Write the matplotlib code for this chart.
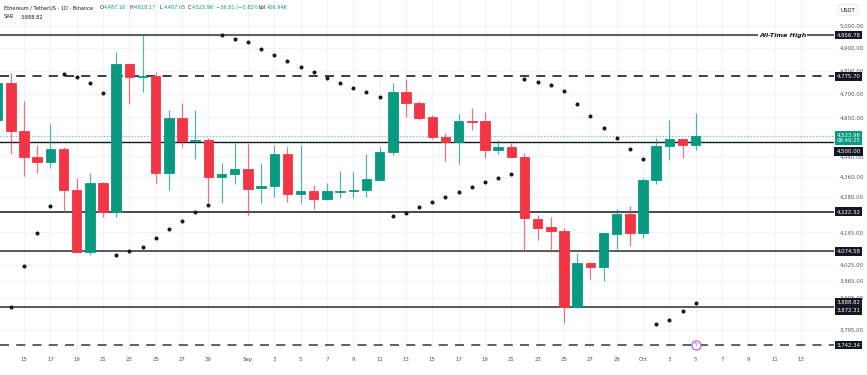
import matplotlib
matplotlib.use('Agg')
import matplotlib.pyplot as plt
import matplotlib.dates as mdates
import matplotlib.transforms as mtransforms
import pandas as pd
import numpy as np

# ---------------- data ----------------
dates = pd.date_range('2025-08-13', '2025-10-05', freq='D')
opens = [4589, 4744, 4544, 4438, 4418, 4470, 4308, 4073, 4334, 4222,
         4829, 4773, 4776, 4373, 4596, 4503, 4507, 4357, 4370, 4389,
         4313, 4323, 4449, 4293, 4303, 4271, 4301, 4304, 4308, 4346,
         4457, 4706, 4662, 4600, 4520, 4499, 4586, 4585, 4465, 4477,
         4439, 4196, 4164, 4149, 3872, 4031, 4015, 4139, 4214, 4141,
         4346, 4482, 4510, 4487.16]
highs = [4760, 4788, 4669, 4486, 4573, 4478, 4354, 4375, 4338, 4882,
         4830, 4956.78, 4795, 4631, 4662, 4631, 4514, 4412, 4493, 4490,
         4415, 4486, 4479, 4486, 4327, 4333, 4382, 4379, 4449, 4477,
         4744, 4763, 4668, 4610, 4534, 4614, 4638, 4624, 4507, 4493,
         4452, 4210, 4204, 4160, 4067, 4036, 4141, 4233, 4245, 4353,
         4514, 4589, 4512, 4618.17]
lows = [4575, 4450, 4363, 4373, 4394, 4223, 4067, 4060, 4204, 4204,
        4656, 4708, 4333, 4307, 4479, 4429, 4262, 4255, 4329, 4210,
        4255, 4281, 4262, 4255, 4233, 4268, 4275, 4275, 4281, 4346,
        4446, 4603, 4590, 4510, 4422, 4410, 4548, 4433, 4451, 4437,
        4079, 4116, 4073, 3817, 3871, 3973, 3967, 4082, 4094, 4122,
        4330, 4426, 4432, 4467.05]
closes = [4746, 4544, 4438, 4418, 4470, 4308, 4073, 4334, 4222, 4827,
          4773, 4776, 4373, 4596, 4503, 4508, 4357, 4370, 4389, 4312,
          4323, 4449, 4293, 4303, 4271, 4303, 4304, 4308, 4350, 4457,
          4706, 4662, 4599, 4520, 4499, 4585, 4582, 4465, 4479, 4439,
          4198, 4161, 4150, 3872, 4031, 4015, 4141, 4214, 4141, 4346,
          4482, 4510, 4487, 4523.96]
sar = [np.nan, 3873.5, 4020, 4143, 4245, 4785, 4773, 4744, 4704, 4059,
       4076, 4091, 4125, 4158, 4189, 4221, 4250, 4956.78, 4937, 4924,
       4894, 4868, 4841, 4816, 4792, 4769, 4747, 4725, 4706, 4685,
       4208, 4219, 4241, 4260, 4281, 4299, 4319, 4337, 4354, 4371,
       4764, 4749, 4737, 4711, 4655, 4606, 4557, 4514, 4470, 4431,
       3814, 3828, 3858, 3888.82]

ath_level = 4956.78
res_level = 4775.70
last_price = 4523.96
level_4500 = 4500.00
level_4222 = 4222.32
level_4074 = 4074.58
level_3872 = 3872.31
sup_level = 3742.34
sar_last = 3888.82

y_ticks = [5000, 4900, 4800, 4700, 4600, 4440, 4360, 4280, 4145,
           4025, 3965, 3905, 3795]
tick_dates = (list(pd.date_range('2025-08-15', '2025-08-29', freq='2D')) +
              list(pd.date_range('2025-09-01', '2025-09-29', freq='2D')) +
              list(pd.date_range('2025-10-01', '2025-10-13', freq='2D')))
header_items = [
    ("Ethereum / TetherUS · 1D · Binance", 4, '#131722'),
    ("O", 100, '#131722'), ("4,487.16", 103.5, '#089981'),
    ("H", 130, '#131722'), ("4,618.17", 133.5, '#089981'),
    ("L", 160, '#131722'), ("4,467.05", 163.5, '#089981'),
    ("C", 188, '#131722'), ("4,523.96", 191.5, '#089981'),
    ("\u221236.81 (\u22120.82%)", 216, '#089981'),
    ("Vol", 259, '#131722'), ("456.94K", 267, '#089981'),
]

# ---------------- style ----------------
UP = '#089981'
DOWN = '#F23645'
W, H = 867, 375
fig = plt.figure(figsize=(W / 100, H / 100), dpi=100)
ax = fig.add_axes([0, 25 / H, 834 / W, 350 / H])
ax.set_yscale('log')

x = mdates.date2num(dates)
x0 = mdates.date2num(pd.Timestamp('2025-08-15'))
ax.set_xlim(x0 - 1.822, x0 + 61.5)
ax.set_ylim(3725.2, 5117.0)

o = np.array(opens); c = np.array(closes)
hi = np.array(highs); lo = np.array(lows)
cols = np.where(c >= o, UP, DOWN)

ax.vlines(x, lo, hi, colors=cols, linewidth=0.9, zorder=3, alpha=0.7)
bottoms = np.minimum(o, c)
heights = np.maximum(np.abs(c - o), 0.5)
ax.bar(x, heights, bottom=bottoms, width=0.72, color=cols, edgecolor=cols,
       linewidth=0.6, zorder=4)

ax.plot(x, sar, linestyle='none', marker='o', markersize=1.9,
        color='#131722', zorder=5)

# horizontal levels
ax.axhline(ath_level, xmin=0, xmax=757 / 834, color='#5d606b', lw=1.5, zorder=2)
ax.axhline(ath_level, xmin=808 / 834, xmax=1, color='#5d606b', lw=1.5, zorder=2)
ax.axhline(res_level, color='#2a2e39', lw=1.3, ls=(0, (5, 4)), zorder=2)
ax.axhline(last_price, color=UP, lw=0.9, ls=(0, (1, 1.5)), alpha=0.6, zorder=2)
ax.axhline(level_4500, color='#131722', lw=1.0, zorder=2)
ax.axhline(level_4222, color='#131722', lw=1.1, zorder=2)
ax.axhline(level_4074, color='#3b3e47', lw=1.2, zorder=2)
ax.axhline(level_3872, color='#3b3e47', lw=1.2, zorder=2)
ax.axhline(sup_level, color='#50535e', lw=1.3, ls=(0, (5, 4)), zorder=2)

ax.text(783 / 834, ath_level, "All-Time High", transform=ax.get_yaxis_transform(),
        ha='center', va='center', fontsize=4.6, fontstyle='italic',
        fontweight='bold', color='#131722', zorder=6)

# lightning event marker
ev_x = mdates.date2num(pd.Timestamp('2025-10-05'))
ax.plot([ev_x], [sup_level], marker='o',
        markersize=6.5, markerfacecolor='white', markeredgecolor='#b84fd1',
        markeredgewidth=0.8, zorder=6, clip_on=False)
ax.text(ev_x, sup_level, "\u03df",
        ha='center', va='center', fontsize=4.5, color='#b84fd1', zorder=7)

# axes, ticks, grid
ax.set_yticks(y_ticks)
ax.set_yticks([], minor=True)
ax.set_yticklabels([f"{v:,.2f}" for v in y_ticks])
ax.yaxis.set_minor_formatter(matplotlib.ticker.NullFormatter())
ax.yaxis.tick_right()
ax.tick_params(axis='y', length=0, pad=4, labelsize=3.9, labelcolor='#50535e')
ax.set_xticks(mdates.date2num(tick_dates))
ax.set_xticklabels([d.strftime('%b') if d.day == 1 else str(d.day) for d in tick_dates])
ax.tick_params(axis='x', length=0, pad=5, labelsize=3.9, labelcolor='#50535e')
ax.grid(True, color='#f0f3fa', lw=0.8, zorder=0)
ax.set_axisbelow(True)
for s in ax.spines.values():
    s.set_visible(False)

# price labels on the axis
trans = ax.get_yaxis_transform()
lab_x = 848.5 / 834


def price_box(val, text, fc='#131722', dy=0.0):
    off = mtransforms.offset_copy(trans, fig=fig, x=0, y=dy, units='dots')
    ax.text(lab_x, val, text, transform=off, ha='center', va='center',
            fontsize=3.9, color='white', zorder=10, clip_on=False,
            bbox=dict(boxstyle='square,pad=0.35', fc=fc, ec='none'))


price_box(ath_level, f"{ath_level:,.2f}")
price_box(res_level, f"{res_level:,.2f}")
price_box(last_price, f"{last_price:,.2f}\n08:49:25", fc=UP, dy=-2)
price_box(level_4500, f"{level_4500:,.2f}", dy=-10)
price_box(level_4222, f"{level_4222:,.2f}")
price_box(level_4074, f"{level_4074:,.2f}")
price_box(sar_last, f"{sar_last:,.2f}")
price_box(level_3872, f"{level_3872:,.2f}", dy=-3)
price_box(sup_level, f"{sup_level:,.2f}")

fig.text(848 / W, 1 - 10 / H, "USDT", ha='center', va='center', fontsize=3.9,
         color='#131722',
         bbox=dict(boxstyle='round,pad=0.5', fc='white', ec='#e0e3eb', lw=0.6))

for txt, px, col in header_items:
    fig.text(px / W, 1 - 7.5 / H, txt, ha='left', va='center', fontsize=3.6, color=col)
fig.text(4 / W, 1 - 17 / H, "SAR", ha='left', va='center', fontsize=3.6, color='#131722')
fig.text(21 / W, 1 - 17 / H, f"{sar_last:,.2f}", ha='left', va='center', fontsize=3.6,
         color='#131722')

fig.savefig('out.png', dpi=100, facecolor='white')
